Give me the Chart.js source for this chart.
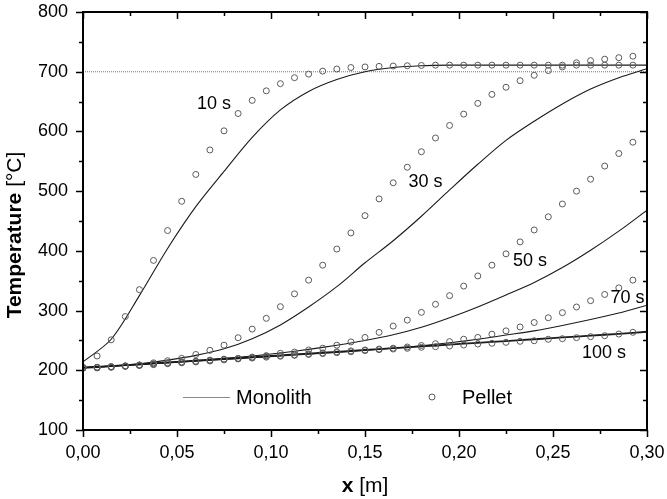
<!DOCTYPE html>
<html>
<head>
<meta charset="utf-8">
<script src="https://cdn.jsdelivr.net/npm/chart.js@4.4.1/dist/chart.umd.min.js"></script>
<style>
html, body { margin: 0; padding: 0; background: #fff; }
</style>
</head>
<body>
<canvas id="chart" width="667" height="499"></canvas>
<script>
// pellet positions along the bed [m]
var pelletX = [0, 0.0075, 0.015, 0.0225, 0.03, 0.0375, 0.045, 0.0525, 0.06, 0.0675,
    0.075, 0.0825, 0.09, 0.0975, 0.105, 0.1125, 0.12, 0.1275, 0.135, 0.1425,
    0.15, 0.1575, 0.165, 0.1725, 0.18, 0.1875, 0.195, 0.2025, 0.21, 0.2175,
    0.225, 0.2325, 0.24, 0.2475, 0.255, 0.2625, 0.27, 0.2775, 0.285, 0.2925];

var pellet10 = [205, 224, 251, 290, 335, 384, 434, 483, 528, 569,
    601, 630, 652, 668, 680, 690, 696, 701, 704.5, 707,
    708, 709, 709.5, 710, 710.5, 711, 711, 711, 711, 711,
    711, 711, 711, 711, 711, 711, 711, 711, 711, 711];
var pellet30 = [204, 205, 206, 207.5, 209, 212.5, 216, 220, 226.5, 233.5,
    242, 254.5, 269, 287, 306.5, 328, 351, 376, 403, 430,
    459, 487, 514, 540, 566, 589, 610, 629, 647, 662,
    674, 685, 694, 702, 708, 715, 718.5, 721, 723.5, 726];
var pellet50 = [204, 205, 206, 207, 208.5, 210.5, 212, 213.5, 215, 217,
    218.5, 220, 222, 224.5, 228.5, 230.5, 234, 237, 242, 247.5,
    255, 263.5, 274, 284, 297, 310.5, 325, 341, 358, 376,
    395, 415, 435, 457, 478.5, 500, 520, 542, 563, 582];
var pellet70 = [204, 204.5, 205.5, 207, 208.5, 210.5, 212, 213.5, 215, 216.5,
    218.5, 219.5, 221.5, 223.5, 224.5, 226, 227.5, 229, 231, 232.5,
    234, 235.5, 237, 239, 241.5, 244.5, 248, 252, 255, 260.5,
    266, 272.5, 280, 288, 296.5, 306, 316.5, 327, 338, 351];
var pellet100 = [203.5, 204, 205, 206.5, 208, 209.5, 211, 212.5, 214, 215.5,
    217.5, 219, 220.5, 222, 223.5, 225, 226.5, 228, 229.5, 231,
    233, 234.5, 235.6, 236.8, 238.5, 239.5, 240.7, 242.3, 244, 245.2,
    246.8, 248.5, 249.5, 251.9, 252.9, 254.6, 256.3, 257.9, 260.7, 263.6];

// monolith model curves
var monoX = [0, 0.015, 0.03, 0.045, 0.06, 0.075, 0.09, 0.105, 0.12, 0.135,
    0.15, 0.165, 0.18, 0.195, 0.21, 0.225, 0.24, 0.255, 0.27, 0.285, 0.3];
var mono10 = [214, 252, 325, 404, 474, 533, 590, 636, 667, 687, 700, 707, 710, 711, 711, 711, 711, 711, 711, 711, 711];
var mono30 = [205, 207, 211, 217, 225, 236, 253, 276, 306, 340, 380, 417, 458, 502, 545, 585, 617, 646, 671, 690, 705];
var mono50 = [205, 207, 210, 213, 216, 220, 224, 229, 235, 242, 250, 259.5, 272, 288, 306, 326, 347, 372, 401, 433, 468];
var mono70 = [204.5, 207, 209.5, 212.5, 215.5, 218, 221, 224, 227, 230, 233.5, 237, 241, 246, 252, 259, 266, 275, 285, 296, 309];
var mono100 = [204, 207, 210, 213, 216, 219, 222, 225, 228, 231, 234, 237, 240, 243, 246, 249, 252, 255, 258, 261, 264.5];

var setpoint = 700;
var xRange = [0, 0.3];
var xMinorTicks = [0.025, 0.075, 0.125, 0.175, 0.225, 0.275];
var yMinorTicks = [150, 250, 350, 450, 550, 650, 750];

var curveLabels = [
    { text: "10 s", x: 0.0697, y: 646 },
    { text: "30 s", x: 0.1822, y: 515 },
    { text: "50 s", x: 0.2378, y: 383 },
    { text: "70 s", x: 0.2896, y: 321 },
    { text: "100 s", x: 0.2771, y: 229 }
];

var FONT = "'Liberation Sans', Arial, sans-serif";

function pairs(xs, ys) {
    return ys.map(function(v, i) { return { x: xs[i], y: v }; });
}

function monoSet(xs, ys, w) {
    return {
        data: pairs(xs, ys),
        showLine: true,
        borderColor: "#1a1a1a",
        borderWidth: w || 1.1,
        pointRadius: 0,
        tension: 0.3,
        fill: false,
        order: 2
    };
}

function pelletSet(ys) {
    return {
        data: pairs(pelletX, ys),
        showLine: false,
        pointStyle: "circle",
        pointRadius: 3,
        pointBorderWidth: 1,
        pointBorderColor: "#5a5a5a",
        pointBackgroundColor: "rgba(0,0,0,0)",
        order: 1
    };
}

//Frame, ticks, titles, labels, legend

var decorations = {
    id: "decorations",
    afterDatasetsDraw: function(chart) {
        var ctx = chart.ctx, a = chart.chartArea;
        var xs = chart.scales.x, ys = chart.scales.y;
        ctx.save();

        ctx.strokeStyle = "#000";
        ctx.lineWidth = 2;
        ctx.strokeRect(a.left, a.top, a.right - a.left, a.bottom - a.top);

        ctx.lineWidth = 1.5;
        function tickX(v, len) {
            var p = Math.round(xs.getPixelForValue(v)) + 0.5;
            ctx.beginPath();
            ctx.moveTo(p, a.bottom); ctx.lineTo(p, a.bottom + len);
            ctx.moveTo(p, a.top); ctx.lineTo(p, a.top + len);
            ctx.stroke();
        }
        function tickY(v, len) {
            var p = Math.round(ys.getPixelForValue(v)) + 0.5;
            ctx.beginPath();
            ctx.moveTo(a.left, p); ctx.lineTo(a.left - len, p);
            ctx.moveTo(a.right, p); ctx.lineTo(a.right - len, p);
            ctx.stroke();
        }
        xs.ticks.forEach(function(t) { tickX(t.value, 7); });
        xMinorTicks.forEach(function(v) { tickX(v, 4); });
        ys.ticks.forEach(function(t) { tickY(t.value, 7); });
        yMinorTicks.forEach(function(v) { tickY(v, 4); });

        // curve labels
        ctx.fillStyle = "#000";
        ctx.font = "18px " + FONT;
        ctx.textAlign = "center";
        ctx.textBaseline = "middle";
        curveLabels.forEach(function(l) {
            ctx.fillText(l.text, xs.getPixelForValue(l.x), ys.getPixelForValue(l.y));
        });

        // legend
        var ly = a.top + 385;
        ctx.strokeStyle = "#8a8a8a";
        ctx.lineWidth = 1;
        ctx.beginPath();
        ctx.moveTo(a.left + 100, ly + 0.5);
        ctx.lineTo(a.left + 147, ly + 0.5);
        ctx.stroke();
        ctx.font = "20px " + FONT;
        ctx.textAlign = "left";
        ctx.fillText("Monolith", a.left + 153, ly + 1);
        ctx.strokeStyle = "#5a5a5a";
        ctx.beginPath();
        ctx.arc(a.left + 349, ly, 3, 0, 2 * Math.PI);
        ctx.stroke();
        ctx.fillText("Pellet", a.left + 379, ly + 1);

        // axis titles with mixed weights
        function mixed(parts, cx, cy, rot) {
            ctx.save();
            ctx.translate(cx, cy);
            ctx.rotate(rot);
            var w = 0;
            parts.forEach(function(p) { ctx.font = p.f; w += ctx.measureText(p.t).width; });
            var x = -w / 2;
            ctx.textAlign = "left";
            ctx.textBaseline = "middle";
            parts.forEach(function(p) {
                ctx.font = p.f;
                ctx.fillText(p.t, x, 0);
                x += ctx.measureText(p.t).width;
            });
            ctx.restore();
        }
        mixed([{ t: "Temperature ", f: "bold 21px " + FONT }, { t: "[°C]", f: "21px " + FONT }],
            15, 235, -Math.PI / 2);
        mixed([{ t: "x ", f: "bold 21px " + FONT }, { t: "[m]", f: "21px " + FONT }],
            (a.left + a.right) / 2, 486, 0);

        ctx.restore();
    }
};

var datasets = [
    {
        data: pairs(xRange, [setpoint, setpoint]),
        showLine: true,
        borderColor: "#8c8c8c",
        borderWidth: 1.2,
        borderDash: [1, 1],
        pointRadius: 0,
        order: 3
    },
    monoSet(monoX, mono10),
    monoSet(monoX, mono30),
    monoSet(monoX, mono50),
    monoSet(monoX, mono70),
    monoSet(monoX, mono100, 1.8),
    pelletSet(pellet10),
    pelletSet(pellet30),
    pelletSet(pellet50),
    pelletSet(pellet70),
    pelletSet(pellet100)
];

var chart = new Chart(document.getElementById("chart"), {
    type: "scatter",
    data: { datasets: datasets },
    options: {
        responsive: false,
        animation: false,
        events: [],
        layout: { padding: { top: 12, right: 20, left: 0, bottom: 0 } },
        plugins: {
            legend: { display: false },
            tooltip: { enabled: false }
        },
        scales: {
            x: {
                type: "linear",
                min: 0,
                max: 0.3,
                grid: { display: false, drawTicks: false },
                border: { display: false },
                afterFit: function(s) {
                    s.height = 69;
                    s.paddingLeft = 0;
                    s.paddingRight = 0;
                },
                ticks: {
                    stepSize: 0.05,
                    padding: 12,
                    color: "#000",
                    font: { family: FONT, size: 18 },
                    maxRotation: 0,
                    callback: function(v) { return v.toFixed(2).replace(".", ","); }
                }
            },
            y: {
                min: 100,
                max: 800,
                grid: { display: false, drawTicks: false },
                border: { display: false },
                afterFit: function(s) {
                    s.width = 83;
                    s.paddingTop = 0;
                    s.paddingBottom = 0;
                },
                ticks: {
                    stepSize: 100,
                    padding: 15,
                    color: "#000",
                    font: { family: FONT, size: 18 }
                }
            }
        }
    },
    plugins: [decorations]
});
</script>
</body>
</html>
